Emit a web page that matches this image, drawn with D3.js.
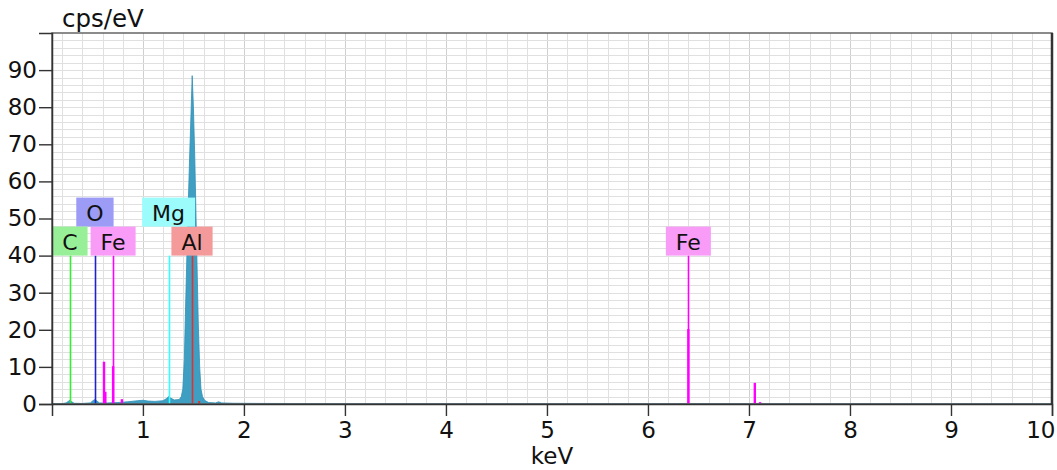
<!DOCTYPE html>
<html>
<head>
<meta charset="utf-8">
<script src="https://cdn.jsdelivr.net/npm/d3@7/dist/d3.min.js"></script>
<style>
  html, body { margin: 0; padding: 0; background: #fff; }
  svg { display: block; font-family: "DejaVu Sans", Verdana, sans-serif; }
</style>
</head>
<body>
<svg id="chart" width="1057" height="470"></svg>
<script>
// EDS spectrum: energy (keV) vs intensity (cps/eV)
const specKeV = [0.11, 0.2, 0.24, 0.26, 0.277, 0.295, 0.32, 0.4, 0.48, 0.505, 0.525, 0.545, 0.57,
  0.65, 0.75, 0.85, 0.95, 1.0, 1.05, 1.12, 1.2, 1.235, 1.254, 1.275, 1.31, 1.36, 1.38, 1.395,
  1.41, 1.426, 1.445, 1.462, 1.476, 1.488, 1.5, 1.514, 1.53, 1.548, 1.562, 1.575, 1.59, 1.61,
  1.65, 1.72, 1.75, 1.78, 1.9, 2.2, 3, 5, 8, 10];
const specCps = [0.1, 0.1, 0.3, 0.7, 1.0, 0.6, 0.2, 0.15, 0.3, 0.9, 1.2, 0.8, 0.3,
  0.3, 0.4, 0.6, 0.9, 1.0, 0.8, 0.7, 0.9, 1.5, 2.0, 1.6, 1.1, 1.2, 2.0, 4,
  12, 30, 50, 66, 78, 88.5, 80, 66, 45, 22, 10, 4, 2.0, 1.0,
  0.4, 0.3, 0.6, 0.3, 0.2, 0.15, 0.1, 0.08, 0.05, 0.05];

// Element markers (Z sets the order in which labels claim a row)
const elemNames = ["C", "O", "Fe", "Mg", "Al", "Fe"];
const elemZ = [6, 8, 26, 12, 13, 26];
const elemKeV = [0.277, 0.525, 0.705, 1.254, 1.486, 6.40];
const elemLine = ["#33ee33", "#2020cc", "#ff00ff", "#33ffff", "#dd3333", "#ff00ff"];
const elemBox = ["#97ef97", "#9c9cf7", "#f89cf8", "#9cfcfc", "#f59a9a", "#f89cf8"];
const markerTop = 40;

// Fe family line intensities
const feKeV = [0.615, 0.628, 0.705, 0.792, 6.40, 7.058, 7.11];
const feCps = [11.4, 3.3, 10.2, 1.3, 20.2, 5.7, 0.5];
// Al K-beta
const alKeV = [1.557];
const alCps = [0.8];

const xMajor = [1, 2, 3, 4, 5, 6, 7, 8, 9, 10];
const yMajor = [0, 10, 20, 30, 40, 50, 60, 70, 80, 90];

const W = 1057, H = 470;
const m = { left: 52, right: 5, top: 33, bottom: 66 };
const svg = d3.select("#chart");

const x = d3.scaleLinear().domain([0.1, 10]).range([m.left, W - m.right]);
const y = d3.scaleLinear().domain([0, 100]).range([H - m.bottom, m.top]);

const x0 = x.range()[0], x1 = x.range()[1], y0 = y.range()[0], y1 = y.range()[1];

// grid
const xMinor = d3.range(0.2, 9.99, 0.2).map(v => +v.toFixed(1));
const yMinor = d3.range(2, 99.9, 2);
const grid = svg.append("g").attr("stroke", "#e0e0e0").attr("stroke-width", 1);
grid.selectAll("line.v").data(xMinor).join("line")
  .attr("x1", d => Math.round(x(d)) + 0.5).attr("x2", d => Math.round(x(d)) + 0.5)
  .attr("y1", y1).attr("y2", y0)
  .attr("stroke", d => Number.isInteger(d) ? "#cfcfcf" : null);
grid.selectAll("line.h").data(yMinor).join("line")
  .attr("y1", d => Math.round(y(d)) + 0.5).attr("y2", d => Math.round(y(d)) + 0.5)
  .attr("x1", x0).attr("x2", x1);

// spectrum
const spec = specKeV.map((k, i) => [k, specCps[i]]);
svg.append("path").datum(spec)
  .attr("fill", "#3f9fc3").attr("stroke", "#2f8fb6").attr("stroke-width", 0.8)
  .attr("d", d3.area().x(d => x(d[0])).y0(y(0)).y1(d => y(d[1])));

// marker lines
const elems = elemNames.map((n, i) => ({ name: n, z: elemZ[i], keV: elemKeV[i], line: elemLine[i], box: elemBox[i] }));
svg.append("g").selectAll("line").data(elems).join("line")
  .attr("x1", d => Math.round(x(d.keV)) + 0.5).attr("x2", d => Math.round(x(d.keV)) + 0.5)
  .attr("y1", y(0)).attr("y2", y(markerTop))
  .attr("stroke", d => d.line).attr("stroke-width", 1.6);

// line intensity bars
const bars = svg.append("g");
bars.selectAll("line.fe").data(feKeV.map((k, i) => [k, feCps[i]])).join("line")
  .attr("x1", d => x(d[0])).attr("x2", d => x(d[0]))
  .attr("y1", y(0)).attr("y2", d => y(d[1]))
  .attr("stroke", "#ff00ff").attr("stroke-width", 2.4);
bars.selectAll("line.al").data(alKeV.map((k, i) => [k, alCps[i]])).join("line")
  .attr("x1", d => x(d[0])).attr("x2", d => x(d[0]))
  .attr("y1", y(0)).attr("y2", d => y(d[1]))
  .attr("stroke", "#dd3333").attr("stroke-width", 2);

// label boxes: heavier elements take the lower row first, others stack above on collision
const boxH = 29, pad = 10;
const labels = svg.append("g");
const rows = [];
elems.slice().sort((a, b) => b.z - a.z || a.keV - b.keV).forEach(d => {
  const t = labels.append("text").attr("font-size", 22).text(d.name);
  const w = t.node().getComputedTextLength() + 2 * pad;
  const cx = x(d.keV);
  let r = 0;
  while ((rows[r] || []).some(b => cx - w / 2 < b[1] && cx + w / 2 > b[0])) r++;
  (rows[r] = rows[r] || []).push([cx - w / 2, cx + w / 2]);
  const top = y(markerTop) - boxH * (r + 1);
  labels.insert("rect", "text")
    .attr("x", cx - w / 2).attr("y", top).attr("width", w).attr("height", boxH)
    .attr("fill", d.box);
  t.attr("x", cx).attr("y", top + boxH - 6).attr("text-anchor", "middle").attr("fill", "#111");
});

// frame
svg.append("rect").attr("x", x0).attr("y", y1).attr("width", x1 - x0).attr("height", y0 - y1)
  .attr("fill", "none").attr("stroke", "#666").attr("stroke-width", 1.5);
svg.append("line").attr("x1", x1).attr("x2", x1).attr("y1", y1).attr("y2", y0)
  .attr("stroke", "#333").attr("stroke-width", 2.5);

// axes
const axisX = svg.append("g").attr("transform", `translate(0,${y0})`);
axisX.call(d3.axisBottom(x).tickValues(xMinor).tickSize(8).tickFormat(""));
axisX.call(d3.axisBottom(x).tickValues(xMajor).tickSize(12).tickPadding(6).tickFormat(d3.format("d")));
axisX.selectAll(".domain").attr("stroke", "#333").attr("stroke-width", 1.5);
axisX.selectAll(".tick line").attr("stroke", "#333").attr("stroke-width", 1.4);
axisX.selectAll("text").attr("font-size", 23).attr("fill", "#111").attr("font-family", "DejaVu Sans");
// keep the last label inside the page
axisX.selectAll(".tick text").filter(d => d === 10).attr("text-anchor", "end").attr("dx", 3);

const axisY = svg.append("g").attr("transform", `translate(${x0},0)`);
axisY.call(d3.axisLeft(y).tickValues(yMinor.concat([98])).tickSize(8).tickFormat(""));
axisY.call(d3.axisLeft(y).tickValues(yMajor).tickSize(13).tickPadding(2).tickFormat(d3.format("d")));
axisY.selectAll(".domain").attr("stroke", "#333").attr("stroke-width", 1.5);
axisY.selectAll(".tick line").attr("stroke", "#333").attr("stroke-width", 1.4);
axisY.selectAll("text").attr("font-size", 23).attr("fill", "#111").attr("font-family", "DejaVu Sans");

// axis titles
svg.append("text").attr("x", 62).attr("y", 27).attr("font-size", 24.5).attr("fill", "#111").text("cps/eV");
svg.append("text").attr("x", (x0 + x1) / 2).attr("y", 464).attr("text-anchor", "middle")
  .attr("font-size", 23).attr("fill", "#111").text("keV");
</script>
</body>
</html>
